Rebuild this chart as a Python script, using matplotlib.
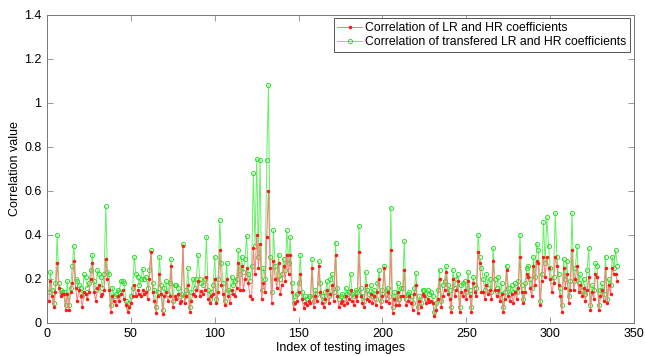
import matplotlib
matplotlib.use("Agg")
import matplotlib.pyplot as plt
import numpy as np

plt.rcParams['font.family'] = ['Liberation Sans', 'DejaVu Sans']

# Correlation of LR and HR coefficients (red)
red_vals = [
    .10, .19, .12, .07, .14, .27, .16, .12, .13, .13,
    .06, .13, .06, .14, .18, .28, .16, .10, .15, .12,
    .07, .14, .13, .11, .14, .20, .27, .14, .10, .16,
    .17, .12, .13, .15, .29, .20, .15, .05, .12, .10,
    .08, .12, .10, .13, .15, .11, .08, .05, .07, .09,
    .12, .17, .12, .15, .13, .12, .15, .13, .14, .11,
    .20, .32, .14, .10, .045, .12, .22, .13, .04, .12,
    .14, .10, .12, .26, .07, .12, .11, .13, .09, .10,
    .35, .09, .12, .17, .05, .10, .13, .12, .15, .19,
    .12, .145, .13, .15, .21, .11, .09, .12, .13, .20,
    .09, .14, .33, .17, .13, .08, .20, .12, .09, .15,
    .13, .12, .16, .27, .15, .26, .15, .20, .25, .18,
    .12, .11, .34, .22, .40, .25, .36, .11, .18, .14,
    .39, .60, .25, .09, .28, .20, .16, .27, .13, .17,
    .26, .19, .31, .22, .31, .14, .065, .09, .10, .14,
    .22, .11, .066, .09, .08, .10, .09, .25, .07, .12,
    .10, .26, .14, .09, .07, .11, .15, .09, .13, .17,
    .10, .31, .12, .07, .09, .10, .08, .12, .09, .11,
    .15, .10, .08, .12, .10, .32, .12, .09, .07, .17,
    .11, .10, .13, .09, .12, .08, .14, .20, .07, .12,
    .25, .10, .14, .09, .33, .045, .11, .08, .14, .08,
    .12, .12, .24, .08, .10, .12, .09, .06, .13, .17,
    .045, .10, .07, .13, .12, .09, .11, .095, .10, .09,
    .033, .06, .11, .20, .07, .12, .15, .23, .13, .11,
    .05, .20, .12, .15, .19, .05, .14, .12, .15, .11,
    .19, .12, .05, .18, .14, .12, .32, .27, .14, .14,
    .11, .17, .13, .15, .11, .28, .15, .12, .15, .10,
    .13, .05, .11, .24, .12, .10, .13, .09, .14, .11,
    .16, .30, .14, .09, .14, .22, .21, .16, .12, .26,
    .17, .28, .27, .08, .19, .30, .21, .30, .25, .20,
    .14, .18, .30, .26, .17, .12, .05, .25, .16, .22,
    .09, .15, .33, .15, .20, .26, .14, .17, .12, .16,
    .10, .15, .21, .06, .14, .11, .22, .21, .06, .12,
    .15, .10, .25, .09, .17, .13, .25, .22, .22, .19,
]

# Correlation of transfered LR and HR coefficients (green)
green_vals = [
    .14, .23, .15, .09, .18, .40, .18, .15, .14, .14,
    .08, .19, .08, .16, .26, .35, .20, .19, .17, .16,
    .12, .22, .21, .16, .18, .24, .31, .19, .15, .24,
    .22, .21, .16, .22, .53, .23, .22, .08, .16, .12,
    .13, .15, .14, .19, .19, .18, .10, .07, .09, .12,
    .16, .30, .22, .21, .17, .20, .245, .20, .21, .16,
    .24, .33, .18, .15, .07, .14, .30, .17, .06, .16,
    .19, .13, .18, .29, .10, .17, .17, .16, .12, .13,
    .36, .12, .15, .25, .07, .14, .20, .16, .20, .31,
    .20, .18, .17, .20, .39, .15, .11, .14, .17, .30,
    .11, .20, .465, .27, .18, .10, .27, .15, .14, .21,
    .17, .19, .20, .33, .22, .30, .23, .29, .395, .22,
    .19, .26, .68, .35, .745, .30, .74, .15, .25, .20,
    .74, 1.08, .30, .14, .42, .26, .20, .31, .20, .22,
    .29, .24, .42, .27, .39, .18, .09, .12, .13, .18,
    .31, .14, .10, .12, .11, .12, .12, .29, .10, .15,
    .13, .28, .18, .12, .10, .14, .19, .12, .20, .22,
    .14, .365, .16, .11, .12, .13, .11, .16, .13, .14,
    .22, .13, .12, .15, .14, .44, .16, .12, .10, .23,
    .15, .13, .17, .12, .15, .11, .18, .24, .10, .15,
    .26, .13, .16, .12, .524, .07, .14, .11, .18, .11,
    .16, .16, .37, .11, .13, .14, .12, .09, .16, .225,
    .07, .12, .09, .15, .15, .11, .15, .13, .14, .12,
    .05, .09, .15, .24, .10, .17, .19, .26, .17, .15,
    .07, .24, .16, .20, .22, .07, .17, .18, .19, .14,
    .23, .15, .07, .21, .17, .16, .40, .30, .25, .20,
    .15, .22, .16, .20, .14, .34, .20, .16, .21, .13,
    .18, .07, .14, .26, .16, .13, .17, .14, .18, .14,
    .19, .40, .17, .11, .18, .25, .26, .20, .16, .30,
    .21, .36, .33, .10, .22, .456, .27, .48, .35, .25,
    .19, .21, .50, .30, .22, .16, .08, .29, .20, .28,
    .12, .19, .50, .19, .25, .35, .18, .22, .15, .20,
    .13, .24, .34, .08, .17, .15, .27, .26, .08, .15,
    .18, .13, .30, .11, .20, .17, .30, .25, .33, .26,
]

x_ticks = [0, 50, 100, 150, 200, 250, 300, 350]
y_ticks = [0, 0.2, 0.4, 0.6, 0.8, 1.0, 1.2, 1.4]
y_tick_labels = ['0', '0.2', '0.4', '0.6', '0.8', '1', '1.2', '1.4']

idx = np.arange(1, len(red_vals) + 1)

fig = plt.figure(figsize=(6.45, 3.56), dpi=100)
ax = fig.add_axes([0.073, 0.093, 0.910, 0.866])

ax.plot(idx, red_vals, color='#ff7a7a', lw=0.7, marker='.', ms=3.0,
        mfc='#ff1a1a', mec='#ff1a1a', label='Correlation of LR and HR coefficients', zorder=3)
ax.plot(idx, green_vals, color='#66f066', lw=0.7, marker='o', ms=3.0,
        mfc='none', mec='#33dd33', mew=0.7,
        label='Correlation of transfered LR and HR coefficients', zorder=2)

ax.set_xlim(0, 350)
ax.set_ylim(0, 1.4)
ax.set_xticks(x_ticks)
ax.set_yticks(y_ticks)
ax.set_yticklabels(y_tick_labels)
ax.tick_params(direction='in', top=True, right=True, length=4, width=0.6,
               color='#888888', labelsize=9, pad=4)
for s in ax.spines.values():
    s.set_color('#777777')
    s.set_linewidth(0.7)

ax.set_xlabel('Index of testing images', fontsize=9, labelpad=1)
ax.set_ylabel('Correlation value', fontsize=9, labelpad=2)

leg = ax.legend(loc='upper right', fontsize=8.8, frameon=True, fancybox=False,
                edgecolor='#555555', framealpha=1, handlelength=2.0,
                handletextpad=0.3, borderpad=0.3, labelspacing=0.2,
                borderaxespad=0.3)
leg.get_frame().set_linewidth(0.7)

fig.savefig('out.png', dpi=100)
